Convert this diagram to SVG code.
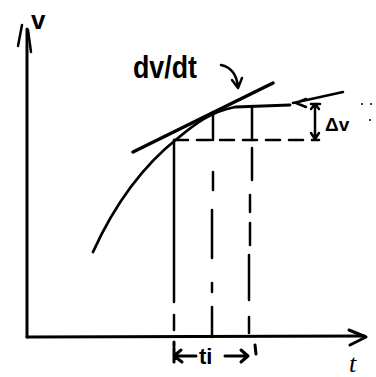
<svg xmlns="http://www.w3.org/2000/svg" width="376" height="377" viewBox="0 0 376 377">
<style>
.s{fill:none;stroke:#000;stroke-linecap:round;stroke-linejoin:round}
.ax{stroke-width:3}
.th{stroke-width:2.5}
.dash{stroke-dasharray:14 9}
.t{font-family:"Liberation Sans","DejaVu Sans",sans-serif;fill:#000}
</style>
<rect width="376" height="377" fill="#fff"/>
<g id="axes">
  <path class="s ax" d="M27,337 L27,29"/>
  <path class="s th" d="M22,25 L18,46 M28,30 L31,52"/>
  <path class="s ax" d="M27,337 L364,336"/>
  <path class="s ax" d="M349,330 L366,337 L350,345"/>
  <text class="t" x="31" y="29" font-size="26" font-weight="bold">v</text>
  <text x="349" y="372" font-family="Liberation Serif,serif" font-style="italic" font-size="26" fill="#000">t</text>
</g>
<g id="curve">
  <path class="s" stroke-width="2.8" d="M93,252 C112,210 140,168 178,138 C195,124 210,112 235,107 L290,105"/>
  <path class="s th" d="M293,103 L343,92 M296,103 L306,99 M296,103 L306,107"/>
</g>
<g id="tangent">
  <path class="s" stroke-width="3.5" d="M133,152 L273,83"/>
  <text class="t" x="133" y="78" font-size="32" font-weight="bold" textLength="64" lengthAdjust="spacingAndGlyphs">dv/dt</text>
  <path class="s th" d="M221,65 Q236,68 238,87 M232,80 L238,88 L242,78"/>
</g>
<g id="connectors">
  <path class="s th" d="M174,140 L174,302 M174,315 L174,330"/>
  <path class="s th" d="M213,112 L213,140 M213,172 L213,190 M212,210 L212,258 M212,283 L212,292 M212,307 L212,337"/>
  <path class="s th" d="M252,107 L252,140 M252,148 L252,180 M250,195 L250,212 M250,223 L250,245 M249,255 L249,300 M249,317 L249,333"/>
  <path class="s th dash" d="M174,140 L305,140"/>
</g>
<g id="delta">
  <path class="s th" d="M311,104 L320,104 M315,105 L315,138 M311,109 L315,104 L319,109 M311,133 L315,139 L319,133 M312,140 L319,140"/>
  <text class="t" x="325" y="131" font-size="19" font-weight="bold">Δv</text>
  <circle cx="362" cy="104" r="1" fill="#000"/>
  <circle cx="371" cy="104" r="1" fill="#000"/>
  <circle cx="370" cy="120" r="1" fill="#000"/>
</g>
<g id="interval">
  <path class="s ax" d="M174,342 L174,346 M174,348 L174,362 M174,356 L196,356 M174,356 L181,350 M174,356 L182,362"/>
  <text class="t" x="199" y="364" font-size="22" font-weight="bold">ti</text>
  <path class="s ax" d="M225,356 L248,356 M241,350 L248,356 L241,362 M255,345 L256,354"/>
</g>
</svg>
